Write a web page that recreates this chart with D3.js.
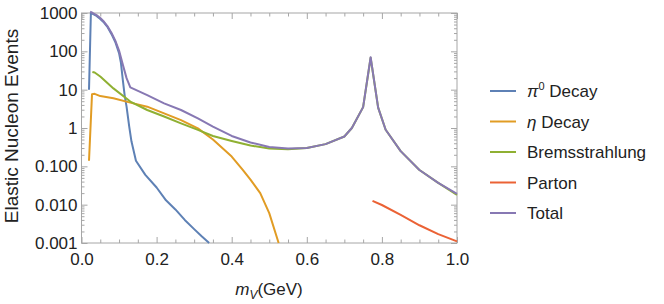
<!DOCTYPE html>
<html>
<head>
<meta charset="utf-8">
<script src="https://cdn.jsdelivr.net/npm/d3@7"></script>
<style>
  body { margin: 0; background: #fff; }
  svg { display: block; font-family: "Liberation Sans", Arial, sans-serif; }
</style>
</head>
<body>
<div id="chart"></div>
<script>
// ------- data -------
const pi0X = [0.02, 0.025, 0.03, 0.04, 0.05, 0.06, 0.07, 0.08, 0.09, 0.1, 0.105, 0.11, 0.115, 0.12, 0.127, 0.133, 0.145, 0.17, 0.2, 0.225, 0.25, 0.275, 0.3, 0.32, 0.34];
const pi0Y = [10, 1000, 950, 840, 700, 560, 420, 280, 175, 90, 50, 18, 7, 3.6, 1.1, 0.45, 0.14, 0.06, 0.028, 0.013, 0.0075, 0.004, 0.0023, 0.0015, 0.001];

const etaX = [0.02, 0.028, 0.035, 0.05, 0.085, 0.13, 0.175, 0.22, 0.265, 0.31, 0.35, 0.4, 0.43, 0.45, 0.476, 0.5, 0.525];
const etaY = [0.14, 7.6, 7.8, 6.8, 6.0, 4.6, 3.6, 2.4, 1.6, 0.98, 0.5, 0.18, 0.08, 0.045, 0.02, 0.006, 0.001];

const bremX = [0.029, 0.035, 0.05, 0.085, 0.13, 0.175, 0.22, 0.265, 0.31, 0.35, 0.4, 0.45, 0.5, 0.55, 0.6, 0.65, 0.7, 0.72, 0.75, 0.77, 0.79, 0.81, 0.85, 0.9, 0.95, 1.0];
const bremY = [29, 28, 22, 10.8, 4.9, 2.95, 2.0, 1.32, 0.89, 0.62, 0.46, 0.35, 0.29, 0.28, 0.30, 0.38, 0.6, 1.0, 3.5, 68, 3.4, 0.9, 0.25, 0.08, 0.037, 0.018];

const partonX = [0.775, 0.8, 0.85, 0.9, 0.95, 1.0];
const partonY = [0.0125, 0.0098, 0.0054, 0.0029, 0.0017, 0.0011];

const totalX = [0.023, 0.03, 0.04, 0.05, 0.06, 0.07, 0.08, 0.09, 0.1, 0.11, 0.12, 0.13, 0.175, 0.22, 0.265, 0.31, 0.35, 0.4, 0.45, 0.5, 0.55, 0.6, 0.65, 0.7, 0.72, 0.75, 0.77, 0.79, 0.81, 0.85, 0.9, 0.95, 1.0];
const totalY = [1080, 1000, 880, 740, 590, 440, 300, 190, 105, 45, 20, 11.5, 7.2, 4.4, 2.95, 1.78, 1.08, 0.62, 0.42, 0.32, 0.29, 0.30, 0.38, 0.6, 1.0, 3.5, 70, 3.4, 0.9, 0.25, 0.08, 0.037, 0.019];

const seriesNames = ["π0 Decay", "η Decay", "Bremsstrahlung", "Parton", "Total"];
const seriesColors = ["#5e81b5", "#e19c24", "#8fb032", "#eb6235", "#8778b3"];

const xMajor = [0, 0.2, 0.4, 0.6, 0.8, 1.0];
const xMajorLabels = ["0.0", "0.2", "0.4", "0.6", "0.8", "1.0"];
const yMajor = [0.001, 0.01, 0.1, 1, 10, 100, 1000];
const yMajorLabels = ["0.001", "0.010", "0.100", "1", "10", "100", "1000"];

// ------- chart -------
const W = 664, H = 304;
const plot = { left: 81.5, right: 457, top: 13, bottom: 243 };

const svg = d3.select("#chart").append("svg")
  .attr("width", W).attr("height", H);

const x = d3.scaleLinear().domain([0, 1]).range([plot.left, plot.right]);
const y = d3.scaleLog().domain([0.001, 1000]).range([plot.bottom, plot.top]);

const frameColor = "#a6a6a6";
const labelColor = "#222";

// frame
svg.append("rect")
  .attr("x", plot.left).attr("y", plot.top)
  .attr("width", plot.right - plot.left).attr("height", plot.bottom - plot.top)
  .attr("fill", "none").attr("stroke", frameColor).attr("stroke-width", 1);

const xMinor = d3.range(0, 1.0001, 0.05).filter(v => !xMajor.some(m => Math.abs(m - v) < 1e-6));
const yMinor = [];
yMajor.slice(0, -1).forEach(d => { for (let k = 2; k <= 9; k++) yMinor.push(k * d); });

const styleAxis = sel => {
  sel.select(".domain").remove();
  sel.selectAll("line").attr("stroke", frameColor);
  sel.selectAll("text").attr("fill", labelColor).style("font-size", "17px");
};

// bottom
svg.append("g").attr("transform", `translate(0,${plot.bottom})`)
  .call(d3.axisBottom(x).tickValues(xMinor).tickSize(-3.5).tickFormat(""))
  .call(styleAxis);
svg.append("g").attr("transform", `translate(0,${plot.bottom})`)
  .call(d3.axisBottom(x).tickValues(xMajor).tickSize(-6).tickPadding(10)
    .tickFormat((d, i) => xMajorLabels[i]))
  .call(styleAxis);
// top
svg.append("g").attr("transform", `translate(0,${plot.top})`)
  .call(d3.axisTop(x).tickValues(xMinor).tickSize(-3.5).tickFormat(""))
  .call(styleAxis);
svg.append("g").attr("transform", `translate(0,${plot.top})`)
  .call(d3.axisTop(x).tickValues(xMajor).tickSize(-6).tickFormat(""))
  .call(styleAxis);
// left
svg.append("g").attr("transform", `translate(${plot.left},0)`)
  .call(d3.axisLeft(y).tickValues(yMinor).tickSize(-3).tickFormat(""))
  .call(styleAxis);
svg.append("g").attr("transform", `translate(${plot.left},0)`)
  .call(d3.axisLeft(y).tickValues(yMajor).tickSize(-6).tickPadding(4)
    .tickFormat((d, i) => yMajorLabels[i]))
  .call(styleAxis);
// right
svg.append("g").attr("transform", `translate(${plot.right},0)`)
  .call(d3.axisRight(y).tickValues(yMinor).tickSize(-3).tickFormat(""))
  .call(styleAxis);
svg.append("g").attr("transform", `translate(${plot.right},0)`)
  .call(d3.axisRight(y).tickValues(yMajor).tickSize(-6).tickFormat(""))
  .call(styleAxis);

// curves
const series = [
  [pi0X, pi0Y], [etaX, etaY], [bremX, bremY], [partonX, partonY], [totalX, totalY]
];
const line = d3.line().x(d => x(d[0])).y(d => y(d[1]));
series.forEach(([xs, ys], i) => {
  svg.append("path")
    .datum(xs.map((v, j) => [v, ys[j]]))
    .attr("d", line)
    .attr("fill", "none")
    .attr("stroke", seriesColors[i])
    .attr("stroke-width", 2)
    .attr("stroke-linejoin", "round");
});

// axis labels
svg.append("text")
  .attr("transform", `translate(18,${(plot.top + plot.bottom) / 2 - 2}) rotate(-90)`)
  .attr("text-anchor", "middle")
  .attr("fill", labelColor)
  .style("font-size", "19px")
  .text("Elastic Nucleon Events");

const xl = svg.append("text")
  .attr("x", 269).attr("y", 295)
  .attr("text-anchor", "middle")
  .attr("fill", labelColor)
  .style("font-size", "17px");
xl.append("tspan").attr("font-style", "italic").text("m");
xl.append("tspan").attr("font-style", "italic").attr("dy", 4).style("font-size", "12px").text("V");
xl.append("tspan").attr("dy", -4).text("(GeV)");

// legend
const legend = svg.append("g").attr("transform", "translate(490,91)");
seriesNames.forEach((name, i) => {
  const row = legend.append("g").attr("transform", `translate(0,${i * 30.5})`);
  row.append("line")
    .attr("x1", 0).attr("x2", 26).attr("y1", 0).attr("y2", 0)
    .attr("stroke", seriesColors[i]).attr("stroke-width", 2);
  const t = row.append("text")
    .attr("x", 37).attr("y", 6)
    .attr("fill", labelColor)
    .style("font-size", "17px");
  if (i === 0) {
    t.append("tspan").attr("font-style", "italic").text("π");
    t.append("tspan").attr("dy", -7).style("font-size", "11px").text("0");
    t.append("tspan").attr("dy", 7).text(" Decay");
  } else if (i === 1) {
    t.append("tspan").attr("font-style", "italic").text("η");
    t.append("tspan").text(" Decay");
  } else {
    t.text(name);
  }
});
</script>
</body>
</html>
